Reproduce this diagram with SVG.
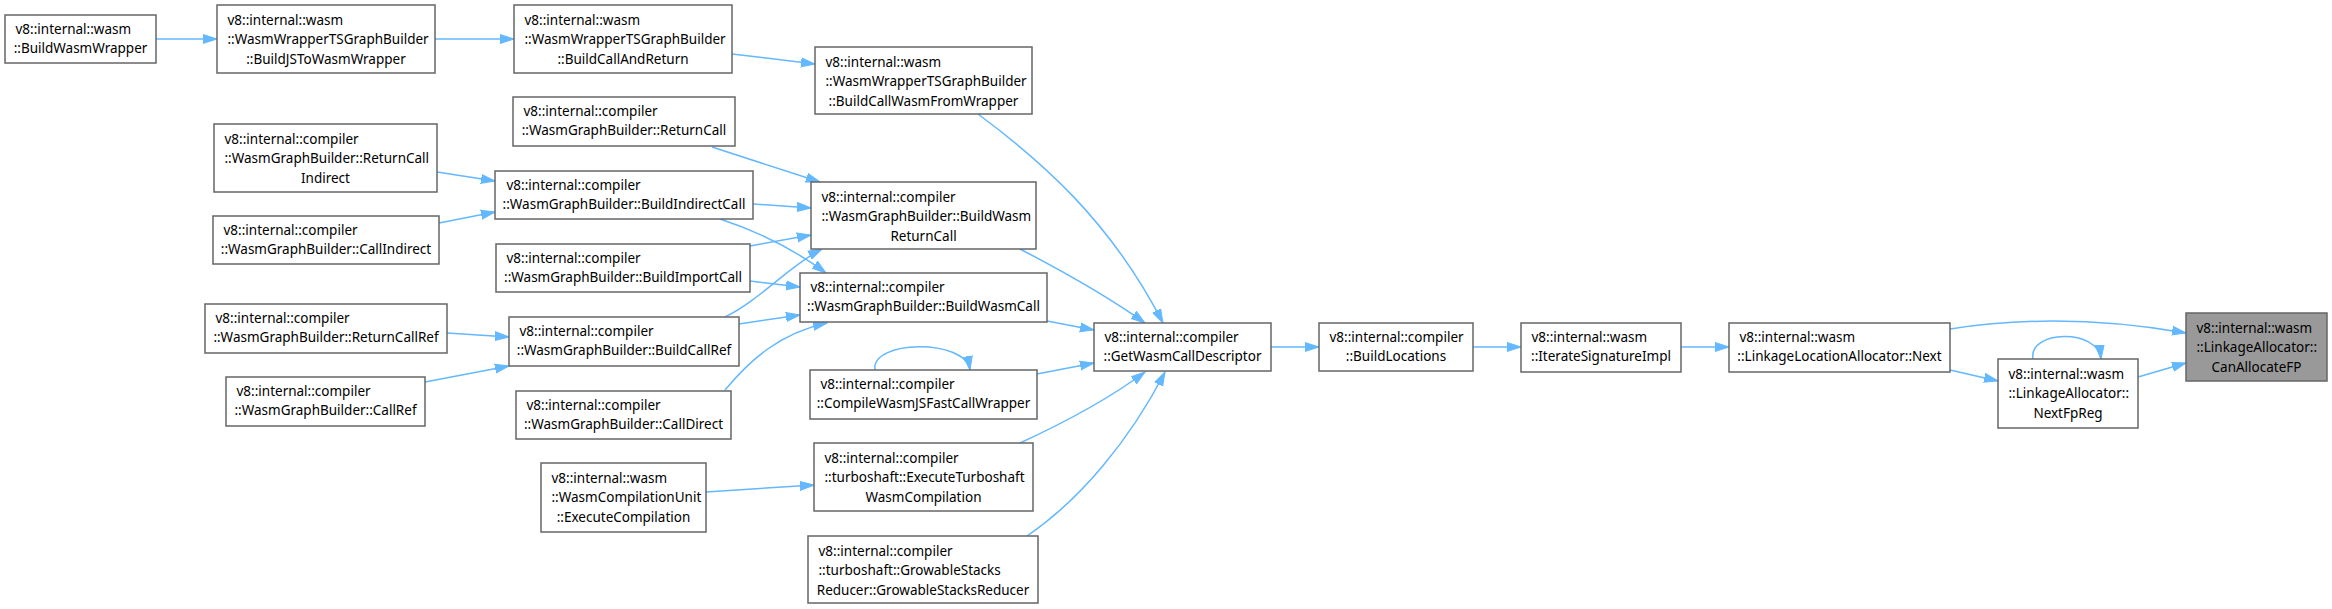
<svg xmlns="http://www.w3.org/2000/svg" width="2332" height="609" viewBox="0 0 2332 609">
<style>
.n rect{fill:#ffffff;stroke:#666666;stroke-width:1.5}
.n.hl rect{fill:#999999;stroke:#666666}
.n text{font-family:"Noto Sans","Liberation Sans",sans-serif;font-size:13.5px;fill:#000000}
.n text.c{text-anchor:middle}
#edges path{fill:none;stroke:#63b8ff;stroke-width:1.5;marker-end:url(#ah)}
</style>
<defs>
<marker id="ah" markerUnits="userSpaceOnUse" markerWidth="15" markerHeight="11" refX="14" refY="5.5" orient="auto" viewBox="0 0 15 11">
<path d="M0,1 L14,5.5 L0,10 z" fill="#63b8ff" stroke="#63b8ff" stroke-width="1"/>
</marker>
</defs>
<rect width="2332" height="609" fill="#ffffff"/>
<g id="edges">
<path d="M156,39 L217,39"/>
<path d="M435,39 L514,39"/>
<path d="M732,54 L815,64"/>
<path d="M712,147 L820,182"/>
<path d="M437,172 L495,181"/>
<path d="M439,223 L495,212"/>
<path d="M753,204 L811,208"/>
<path d="M720,219 C760,232 795,250 826,273"/>
<path d="M750,246 L811,235"/>
<path d="M750,281 L800,287"/>
<path d="M725,317 C760,300 790,265 822,249"/>
<path d="M739,324 L800,315"/>
<path d="M447,333 L509,337"/>
<path d="M425,382 L509,366"/>
<path d="M725,390 C750,360 780,333 827,323"/>
<path d="M1047,321 L1094,330"/>
<path d="M1020,249 C1070,275 1110,298 1145,323"/>
<path d="M978,114 C1040,160 1110,220 1163,323"/>
<path d="M1037,374 L1094,363"/>
<path d="M875,370 C870,340 965,338 970,370"/>
<path d="M1020,443 C1070,420 1110,398 1145,372"/>
<path d="M1027,536 C1080,500 1130,440 1165,372"/>
<path d="M706,492 L814,485"/>
<path d="M1271,347 L1319,347"/>
<path d="M1473,347 L1521,347"/>
<path d="M1681,347 L1729,347"/>
<path d="M1950,329 C2020,318 2100,318 2186,333"/>
<path d="M1950,370 L1998,381"/>
<path d="M2138,377 L2186,363"/>
<path d="M2033,359 C2028,330 2098,328 2101,359"/>
</g>
<g id="n1" class="n"><rect x="5" y="15" width="151" height="48"/><text x="15.5" y="33.5">v8::internal::wasm</text><text class="c" x="80.5" y="53">::BuildWasmWrapper</text></g>
<g id="n2" class="n"><rect x="217" y="5" width="218" height="68"/><text x="227.5" y="24.5">v8::internal::wasm</text><text x="227.5" y="44">::WasmWrapperTSGraphBuilder</text><text class="c" x="326" y="63.5">::BuildJSToWasmWrapper</text></g>
<g id="n3" class="n"><rect x="514" y="5" width="218" height="68"/><text x="524.5" y="24.5">v8::internal::wasm</text><text x="524.5" y="44">::WasmWrapperTSGraphBuilder</text><text class="c" x="623" y="63.5">::BuildCallAndReturn</text></g>
<g id="n4" class="n"><rect x="815" y="47" width="217" height="67"/><text x="825.5" y="66.5">v8::internal::wasm</text><text x="825.5" y="86">::WasmWrapperTSGraphBuilder</text><text class="c" x="923.5" y="105.5">::BuildCallWasmFromWrapper</text></g>
<g id="n5" class="n"><rect x="513" y="97" width="222" height="49"/><text x="523.5" y="115.5">v8::internal::compiler</text><text class="c" x="624" y="135">::WasmGraphBuilder::ReturnCall</text></g>
<g id="n6" class="n"><rect x="214" y="124" width="223" height="68"/><text x="224.5" y="143.5">v8::internal::compiler</text><text x="224.5" y="163">::WasmGraphBuilder::ReturnCall</text><text class="c" x="325.5" y="182.5">Indirect</text></g>
<g id="n7" class="n"><rect x="495" y="171" width="258" height="48"/><text x="506.5" y="189.5">v8::internal::compiler</text><text class="c" x="624" y="209">::WasmGraphBuilder::BuildIndirectCall</text></g>
<g id="n8" class="n"><rect x="213" y="216" width="226" height="48"/><text x="223.5" y="234.5">v8::internal::compiler</text><text class="c" x="326" y="254">::WasmGraphBuilder::CallIndirect</text></g>
<g id="n9" class="n"><rect x="811" y="182" width="225" height="67"/><text x="821.5" y="201.5">v8::internal::compiler</text><text x="821.5" y="221">::WasmGraphBuilder::BuildWasm</text><text class="c" x="923.5" y="240.5">ReturnCall</text></g>
<g id="n10" class="n"><rect x="496" y="244" width="254" height="48"/><text x="506.5" y="262.5">v8::internal::compiler</text><text class="c" x="623" y="282">::WasmGraphBuilder::BuildImportCall</text></g>
<g id="n11" class="n"><rect x="800" y="273" width="247" height="49"/><text x="810.5" y="291.5">v8::internal::compiler</text><text class="c" x="923.5" y="311">::WasmGraphBuilder::BuildWasmCall</text></g>
<g id="n12" class="n"><rect x="205" y="304" width="242" height="49"/><text x="215.5" y="322.5">v8::internal::compiler</text><text class="c" x="326" y="342">::WasmGraphBuilder::ReturnCallRef</text></g>
<g id="n13" class="n"><rect x="509" y="317" width="230" height="49"/><text x="519.5" y="335.5">v8::internal::compiler</text><text class="c" x="624" y="355">::WasmGraphBuilder::BuildCallRef</text></g>
<g id="n14" class="n"><rect x="226" y="377" width="199" height="49"/><text x="236.5" y="395.5">v8::internal::compiler</text><text class="c" x="325.5" y="415">::WasmGraphBuilder::CallRef</text></g>
<g id="n15" class="n"><rect x="516" y="391" width="215" height="48"/><text x="526.5" y="409.5">v8::internal::compiler</text><text class="c" x="623.5" y="429">::WasmGraphBuilder::CallDirect</text></g>
<g id="n16" class="n"><rect x="810" y="370" width="227" height="49"/><text x="820.5" y="388.5">v8::internal::compiler</text><text class="c" x="923.5" y="408">::CompileWasmJSFastCallWrapper</text></g>
<g id="n17" class="n"><rect x="541" y="463" width="165" height="69"/><text x="551.5" y="482.5">v8::internal::wasm</text><text x="551.5" y="502">::WasmCompilationUnit</text><text class="c" x="623.5" y="521.5">::ExecuteCompilation</text></g>
<g id="n18" class="n"><rect x="814" y="443" width="219" height="68"/><text x="824.5" y="462.5">v8::internal::compiler</text><text x="824.5" y="482">::turboshaft::ExecuteTurboshaft</text><text class="c" x="923.5" y="501.5">WasmCompilation</text></g>
<g id="n19" class="n"><rect x="808" y="536" width="230" height="67"/><text x="818.5" y="555.5">v8::internal::compiler</text><text x="818.5" y="575">::turboshaft::GrowableStacks</text><text class="c" x="923" y="594.5">Reducer::GrowableStacksReducer</text></g>
<g id="n20" class="n"><rect x="1094" y="323" width="177" height="48"/><text x="1104.5" y="341.5">v8::internal::compiler</text><text class="c" x="1182.5" y="361">::GetWasmCallDescriptor</text></g>
<g id="n21" class="n"><rect x="1319" y="323" width="154" height="48"/><text x="1329.5" y="341.5">v8::internal::compiler</text><text class="c" x="1396" y="361">::BuildLocations</text></g>
<g id="n22" class="n"><rect x="1521" y="323" width="160" height="49"/><text x="1531.5" y="341.5">v8::internal::wasm</text><text class="c" x="1601" y="361">::IterateSignatureImpl</text></g>
<g id="n23" class="n"><rect x="1729" y="323" width="221" height="49"/><text x="1739.5" y="341.5">v8::internal::wasm</text><text class="c" x="1839.5" y="361">::LinkageLocationAllocator::Next</text></g>
<g id="n24" class="n"><rect x="1998" y="359" width="140" height="69"/><text x="2008.5" y="378.5">v8::internal::wasm</text><text x="2008.5" y="398">::LinkageAllocator::</text><text class="c" x="2068" y="417.5">NextFpReg</text></g>
<g id="n25" class="n hl"><rect x="2186" y="313" width="141" height="68"/><text x="2196.5" y="332.5">v8::internal::wasm</text><text x="2196.5" y="352">::LinkageAllocator::</text><text class="c" x="2256.5" y="371.5">CanAllocateFP</text></g>
</svg>
